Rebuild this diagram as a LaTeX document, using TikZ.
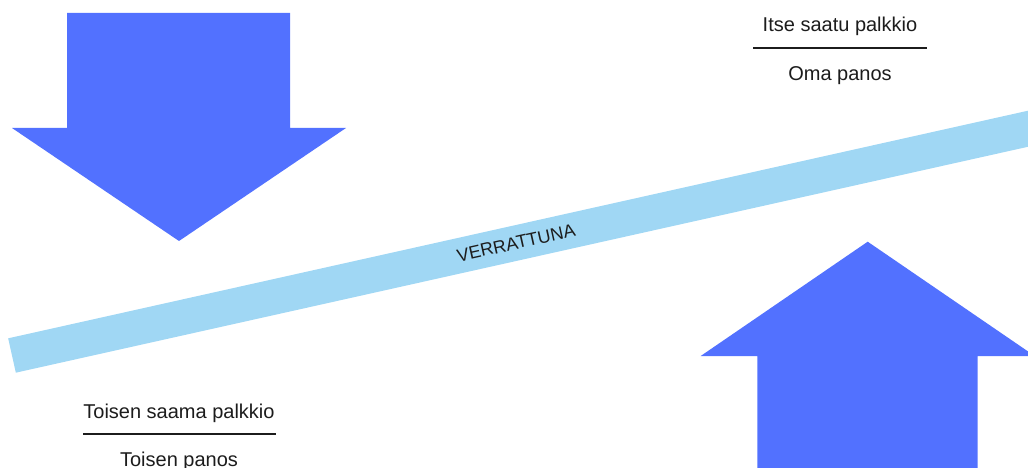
\documentclass[tikz,border=0pt]{standalone}
\usepackage{fontspec}
\setmainfont{Liberation Sans}
\definecolor{arrowblue}{HTML}{5271FF}
\definecolor{beamblue}{HTML}{A0D7F4}
\definecolor{inkdark}{HTML}{1C1C1C}
\usetikzlibrary{positioning}

\begin{document}
\begin{tikzpicture}[
  x=1pt, y=-1pt,
  bigarrow/.style={
    fill=arrowblue,
    draw=none,
  },
  beam/.style={
    draw=beamblue,
    line width=35.2pt,
    line cap=butt,
  },
  lbl/.style={
    font=\fontsize{20}{24}\selectfont,
    text=inkdark,
    inner sep=0pt,
    anchor=base,
  },
  beamlbl/.style={
    font=\fontsize{18}{22}\selectfont,
    text=inkdark,
    inner sep=0pt,
    sloped,
  },
  fracrule/.style={
    draw=inkdark,
    line width=2.2pt,
  },
]

% =============================================================================
% Canvas
% =============================================================================
\useasboundingbox (0,0) rectangle (1028,468);
\clip (0,0) rectangle (1028,468);

% =============================================================================
% Comparison beam
% =============================================================================
\coordinate (beamL) at (12,355.5);
\coordinate (beamR) at (1060,121.6);
\draw[beam] (beamL) -- node[beamlbl, pos=0.481] (cmp) {VERRATTUNA} (beamR);

% =============================================================================
% Arrows
% =============================================================================
% down: pressing on the left end
\fill[bigarrow]
  (67,13) -- (290,13) -- (290,128) -- (346,128)
  -- (179,241) -- (12,128) -- (67,128) -- cycle;

% up: lifting the right end
\fill[bigarrow]
  (757.3,480) -- (757.3,356) -- (700.7,356)
  -- (867.7,241.7) -- (1034.7,356) -- (977.7,356) -- (977.7,480) -- cycle;

% =============================================================================
% Ratios
% =============================================================================
\node[lbl] (ownreward) at (840,31.7) {Itse saatu palkkio};
\node[lbl] (owninput) at (840,80.5) {Oma panos};
\coordinate (ownruleL) at (753.3,47.7);
\coordinate (ownruleR) at (926.7,47.7);
\draw[fracrule] (ownruleL) -- (ownruleR);

\node[lbl] (otherreward) at (179,418.3) {Toisen saama palkkio};
\node[lbl] (otherinput) at (179,466.5) {Toisen panos};
\coordinate (otherruleL) at (83.3,433.7);
\coordinate (otherruleR) at (276,433.7);
\draw[fracrule] (otherruleL) -- (otherruleR);

\end{tikzpicture}
\end{document}
